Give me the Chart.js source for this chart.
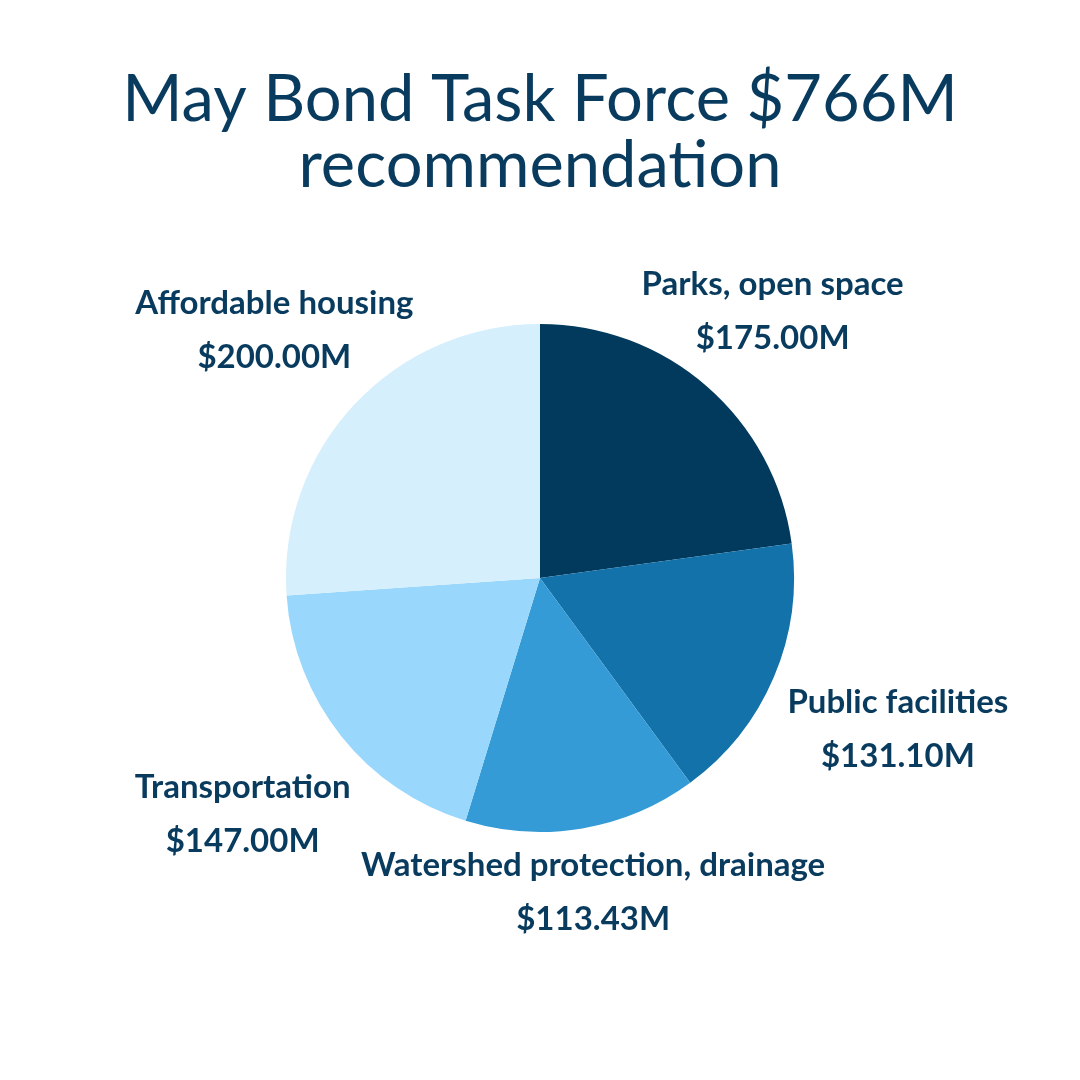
<!DOCTYPE html>
<html>
<head>
<meta charset="utf-8">
<script src="https://cdn.jsdelivr.net/npm/chart.js@4.4.1/dist/chart.umd.min.js"></script>
<style>
  html, body { margin: 0; padding: 0; background: #ffffff; }
  #wrap { width: 1080px; height: 1080px; }
</style>
</head>
<body>
<div id="wrap"><canvas id="graficoBond" width="1080" height="1080"></canvas></div>
<script>
/* ============================
   DADOS
============================ */
const categorias = [
    "Parks, open space",
    "Public facilities",
    "Watershed protection, drainage",
    "Transportation",
    "Affordable housing"
];
const valores = [175.00, 131.10, 113.43, 147.00, 200.00];
const cores = ["#023a5e", "#1372a9", "#349bd6", "#99d8fc", "#d6effc"];

const corTexto = "#083b5e";
const fonte = "Lato, 'Open Sans', sans-serif";

/* ============================
   PLUGIN: RÓTULOS EXTERNOS
============================ */
const rotulosExternos = {
    id: "rotulosExternos",
    afterDatasetsDraw(chart, args, opts) {
        const ctx = chart.ctx;
        const meta = chart.getDatasetMeta(0);
        const tamanho = opts.tamanho;
        const linha = opts.linha;
        ctx.save();
        ctx.fillStyle = corTexto;
        ctx.font = "bold " + tamanho + "px " + fonte;
        ctx.textAlign = "center";
        ctx.textBaseline = "middle";

        meta.data.forEach((arco, i) => {
            const p = arco.getProps(["x", "y", "startAngle", "endAngle", "outerRadius"], true);
            const meio = (p.startAngle + p.endAngle) / 2;
            const dx = Math.cos(meio);
            const dy = Math.sin(meio);
            const l1 = categorias[i];
            const l2 = "$" + valores[i].toFixed(2) + "M";
            const w = Math.max(ctx.measureText(l1).width, ctx.measureText(l2).width);
            const h = linha + tamanho;
            // distancia ate a borda da caixa do texto na direcao do arco
            const alcance = Math.abs(dx) * w / 2 + Math.abs(dy) * h / 2;
            const dist = p.outerRadius + alcance - 5 + (opts.ajustes[i] || 0);
            const cx = p.x + dx * dist;
            const cy = p.y + dy * dist;
            ctx.fillText(l1, cx, cy - linha / 2);
            ctx.fillText(l2, cx, cy + linha / 2);
        });
        ctx.restore();
    }
};

/* ============================
   GRÁFICO
============================ */
function gerarGraficoPizza(idCanvas) {
    const ctx = document.getElementById(idCanvas).getContext("2d");

    new Chart(ctx, {
        type: "pie",
        data: {
            labels: categorias,
            datasets: [{
                data: valores,
                backgroundColor: cores,
                borderWidth: 0
            }]
        },
        options: {
            responsive: false,
            animation: false,
            layout: {
                padding: { top: 67, bottom: 248, left: 0, right: 0 }
            },
            plugins: {
                legend: { display: false },
                tooltip: { enabled: false },
                title: {
                    display: true,
                    text: ["May Bond Task Force $766M", "recommendation"],
                    color: corTexto,
                    font: { family: fonte, size: 65, weight: "normal", lineHeight: 1.015 },
                    padding: { top: 0, bottom: 125 }
                },
                rotulosExternos: {
                    tamanho: 33,
                    linha: 54,
                    ajustes: [-14, 21, -12, 19, -17]
                }
            }
        },
        plugins: [rotulosExternos]
    });
}

gerarGraficoPizza("graficoBond");
</script>
</body>
</html>
